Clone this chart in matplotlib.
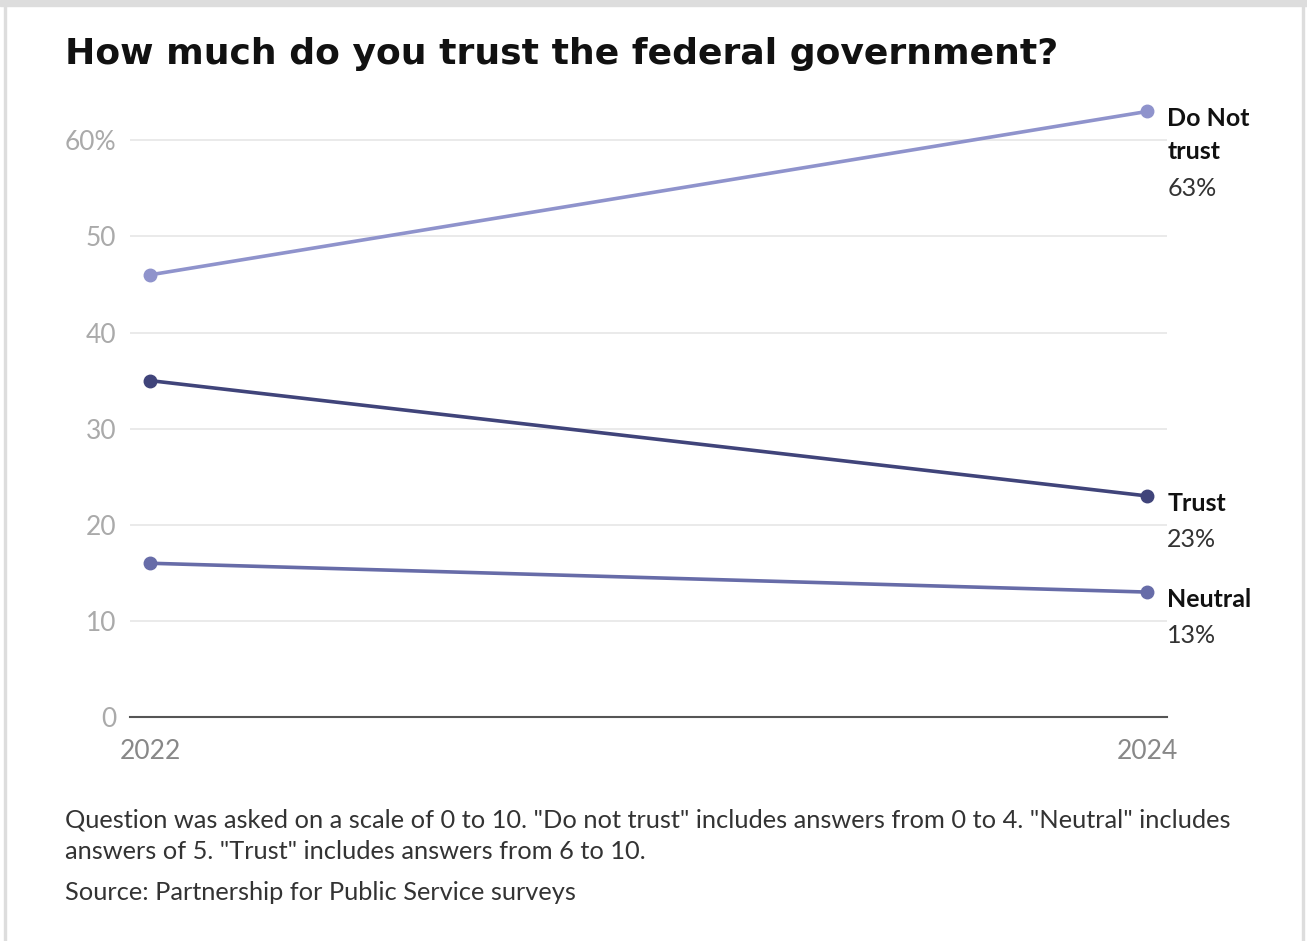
import matplotlib.pyplot as plt
from matplotlib.patches import Rectangle

plt.rcParams['font.family'] = ['Lato', 'DejaVu Sans']

# data
years = [2022, 2024]
do_not_trust = [46, 63]
trust = [35, 23]
neutral = [16, 13]

series = [
    ("Do Not\ntrust", do_not_trust, "#8f93cc"),
    ("Trust", trust, "#40447a"),
    ("Neutral", neutral, "#676ca8"),
]
yticks = [0, 10, 20, 30, 40, 50, 60]
ytick_labels = ["0", "10", "20", "30", "40", "50", "60%"]

title = "How much do you trust the federal government?"
note = ('Question was asked on a scale of 0 to 10. "Do not trust" includes answers from 0 to 4. "Neutral" includes\n'
        'answers of 5. "Trust" includes answers from 6 to 10.')
source = "Source: Partnership for Public Service surveys"

fig = plt.figure(figsize=(13.07, 9.41), dpi=100)
ax = fig.add_axes([0.0995, 0.238, 0.7935, 0.664])

for name, vals, col in series:
    ax.plot(years, vals, color=col, lw=2.6, marker="o", ms=9, zorder=3)
    # label block to the right of the 2024 point
    ax.annotate(name, (years[-1], vals[-1]), xytext=(20, 4), textcoords="offset pixels",
                ha="left", va="top", fontsize=18, fontweight="bold", color="#111111",
                linespacing=1.5, annotation_clip=False)
    nlines = name.count("\n") + 1
    ax.annotate(f"{vals[-1]}%", (years[-1], vals[-1]), xytext=(20, 2 - 34 * nlines), textcoords="offset pixels",
                ha="left", va="top", fontsize=18, color="#333333", annotation_clip=False)

ax.set_xlim(2021.96, 2024.04)
ax.set_ylim(0, 65)
ax.set_yticks(yticks)
ax.set_yticklabels(ytick_labels)
ax.set_xticks(years)
ax.set_xticklabels([str(y) for y in years])
ax.tick_params(axis="y", length=0, pad=10, labelsize=19, labelcolor="#aaaaaa")
ax.tick_params(axis="x", length=0, pad=16, labelsize=19, labelcolor="#888888")
ax.grid(axis="y", color="#e6e6e6", lw=1.2)
ax.set_axisbelow(True)
for s in ["top", "right", "left"]:
    ax.spines[s].set_visible(False)
ax.spines["bottom"].set_color("#555555")
ax.spines["bottom"].set_linewidth(1.5)

fig.text(65 / 1307, 1 - 54 / 941, title, fontsize=26, fontweight="bold", color="#111111", va="center",
         family=["DejaVu Sans"])
fig.text(65 / 1307, 1 - 836 / 941, note, fontsize=18.3, color="#333333", va="center", linespacing=1.45)
fig.text(65 / 1307, 1 - 892 / 941, source, fontsize=18.3, color="#333333", va="center")

# card border
fig.patches.append(Rectangle((0, 1 - 6 / 941), 1, 6 / 941, transform=fig.transFigure, color="#dddddd", zorder=0))
fig.patches.append(Rectangle((4 / 1307, 0), 1.5 / 1307, 1, transform=fig.transFigure, color="#dddddd", zorder=0))
fig.patches.append(Rectangle((1302 / 1307, 0), 1.5 / 1307, 1, transform=fig.transFigure, color="#dddddd", zorder=0))

fig.savefig("out.png", dpi=100)
